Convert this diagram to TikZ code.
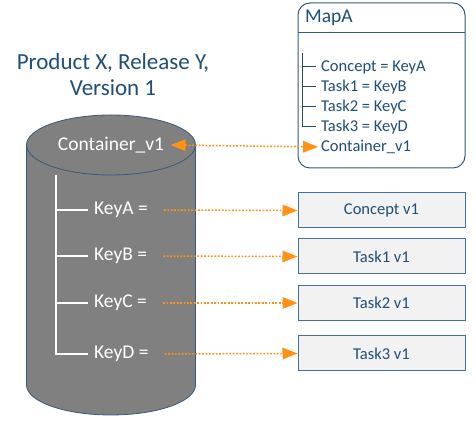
\documentclass[tikz,border=0pt]{standalone}
\usepackage{fontspec}
\setmainfont{Carlito}
\usepackage{tikz}
\usepackage{xcolor}
\definecolor{titleblue}{RGB}{31,78,121}
\definecolor{edgeblue}{RGB}{65,113,156}
\definecolor{boxgray}{RGB}{242,242,242}
\definecolor{drumgray}{RGB}{128,128,128}
\definecolor{linkorange}{RGB}{255,145,20}
\usetikzlibrary{shapes.geometric,positioning,arrows.meta}

\tikzset{
	keytext/.style={text=white, anchor=west, inner sep=0pt, font=\fontsize{19.5}{22}\selectfont},
	maptext/.style={text=titleblue, anchor=west, inner sep=0pt, font=\fontsize{16.5}{19}\selectfont},
	vbox/.style={
		draw=edgeblue,        % blue border
		line width=1pt,       % border thickness
		fill=boxgray,         % light gray fill
		text=titleblue,       % dark blue text
		rectangle,            % shape
		minimum width=167pt,  % box width
		minimum height=35pt,  % box height
		font=\fontsize{16.5}{19}\selectfont
	},
	link/.style={linkorange, line width=1.5pt, dash pattern=on 1.8pt off 1.6pt, -{Triangle[length=15pt,width=11.5pt]}},
}

\begin{document}
\begin{tikzpicture}[x=1pt,y=1pt]
	\useasboundingbox (0,0) rectangle (475,425);

	% title
	\node[text=titleblue, align=center, font=\fontsize{23}{26}\selectfont] (title) at (113,350)
		{Product X, Release Y,\\Version 1};

	% the container drum
	\fill[drumgray] (26.5,280) -- (26.5,40) arc (180:360:84.5 and 30) -- (195.5,280) arc (0:180:84.5 and 30) -- cycle;
	\draw[edgeblue!80!black, line width=0.8pt] (26.5,280) -- (26.5,40) arc (180:360:84.5 and 30) -- (195.5,280);
	\draw[edgeblue!80!black, line width=0.8pt] (111,280) ellipse (84.5 and 30);
	\node[text=white, font=\fontsize{19.5}{22}\selectfont] (cont) at (111,280) {Container\_v1};

	% keys inside the drum
	\coordinate (ktop) at (56,250);
	\node[keytext] (kA) at (94,215) {KeyA =};
	\node[keytext] (kB) at (94,169) {KeyB =};
	\node[keytext] (kC) at (94,122) {KeyC =};
	\node[keytext] (kD) at (94,71) {KeyD =};
	\draw[white, line width=1.2pt] (ktop) |- ([xshift=-6pt]kD.west);
	\foreach \k in {kA,kB,kC}
		\draw[white, line width=1.2pt] (ktop |- \k.west) -- ([xshift=-6pt]\k.west);

	% versioned topics
	\node[vbox] (cA) at (381.5,214.5) {Concept v1};
	\node[vbox] (cB) at (381.5,168.5) {Task1 v1};
	\node[vbox] (cC) at (381.5,122) {Task2 v1};
	\node[vbox] (cD) at (381.5,71.5) {Task3 v1};

	% the map
	\draw[edgeblue!80!black, line width=1pt, fill=white, rounded corners=12pt] (298,257) rectangle (465,422);
	\draw[edgeblue!80!black, line width=1pt] (298,392) -- (465,392);
	\node[text=titleblue, anchor=west, inner sep=0pt, font=\fontsize{19.5}{22}\selectfont] (mapname) at (305,407) {MapA};
	\coordinate (mtop) at (302,372);
	\node[maptext] (m1) at (321,358) {Concept = KeyA};
	\node[maptext] (m2) at (321,338) {Task1 = KeyB};
	\node[maptext] (m3) at (321,318) {Task2 = KeyC};
	\node[maptext] (m4) at (321,298) {Task3 = KeyD};
	\node[maptext] (m5) at (321,278) {Container\_v1};
	\draw[titleblue, line width=1pt] (mtop) |- ([xshift=-5pt]m4.west);
	\foreach \m in {m1,m2,m3}
		\draw[titleblue, line width=1pt] (mtop |- \m.west) -- ([xshift=-5pt]\m.west);

	% links
	\draw[link, {Triangle[length=15pt,width=11.5pt]}-{Triangle[length=15pt,width=11.5pt]}, shorten <=3pt, shorten >=3pt] (cont.east) -- (m5.west);
	\foreach \k/\c in {kA/cA,kB/cB,kC/cC,kD/cD}
		\draw[link, shorten <=16pt] (\k.east) -- (\c.west);
\end{tikzpicture}
\end{document}
